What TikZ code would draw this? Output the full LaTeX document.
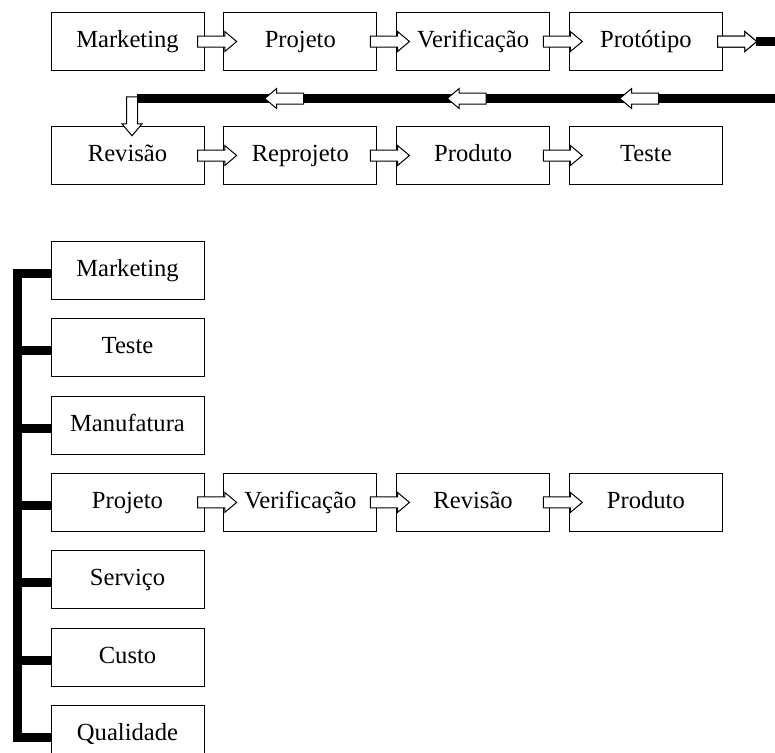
\documentclass[tikz,border=0pt]{standalone}
\usepackage{fontspec}
\setmainfont{Liberation Serif}
\usetikzlibrary{positioning,calc,shapes.arrows}

\begin{document}
\begin{tikzpicture}[x=0.5pt, y=-0.5pt,
    caixa/.style={draw, line width=0.5pt, minimum width=76.5pt, minimum height=29pt, inner sep=0pt, text height=8.6pt, text depth=2.6pt, font=\fontsize{12.3}{14}\selectfont},
    seta/.style={single arrow, draw, fill=white, line width=0.5pt, inner sep=2.5pt, minimum height=19.5pt, single arrow head extend=2.25pt, single arrow tip angle=80},
    barra/.style={line width=4.5pt, line join=miter}]
    \clip (0,0) rectangle (775,752);
    \useasboundingbox (0,0) rectangle (775,752);

    \node[caixa] (m1) at (127.5,41.5) {Marketing};
    \node[caixa, right=9.4pt of m1] (p1) {Projeto};
    \node[caixa, right=9.4pt of p1] (v1) {Verificação};
    \node[caixa, right=9.4pt of v1] (t1) {Protótipo};

    \node[caixa] (r2) at (127.5,155.5) {Revisão};
    \node[caixa, right=9.4pt of r2] (rp2) {Reprojeto};
    \node[caixa, right=9.4pt of rp2] (p2) {Produto};
    \node[caixa, right=9.4pt of p2] (t2) {Teste};

    \node[caixa] (c1) at (127.5,270.5) {Marketing};
    \node[caixa, below=9.15pt of c1] (c2) {Teste};
    \node[caixa, below=9.15pt of c2] (c3) {Manufatura};
    \node[caixa, below=9.15pt of c3] (c4) {Projeto};
    \node[caixa, below=9.15pt of c4] (c5) {Serviço};
    \node[caixa, below=9.15pt of c5] (c6) {Custo};
    \node[caixa, below=9.15pt of c6] (c7) {Qualidade};

    \node[caixa, right=9.4pt of c4] (v3) {Verificação};
    \node[caixa, right=9.4pt of v3] (r3) {Revisão};
    \node[caixa, right=9.4pt of r3] (p3) {Produto};

    \node[seta] (s4) at ($(t1.east)+(11,0)$) {};
    \coordinate (canto) at (137,98.5);
    \draw[barra] ([xshift=-0.5pt]s4.tip) -- (800,41.5) -- (800,98.5) -- (canto);

    \draw[barra] ([yshift=-1.5pt]c1.west) -- ++(-33.5,0) |- ([yshift=-1.5pt]c7.west);
    \foreach \i in {2,...,6}
        \draw[barra] ([yshift=-1.5pt]c\i.west) -- ++(-33.5,0);

    \node[seta] at ($(m1.east)!.5!(p1.west)$) {};
    \node[seta] at ($(p1.east)!.5!(v1.west)$) {};
    \node[seta] at ($(v1.east)!.5!(t1.west)$) {};
    \node[seta] at (s4) {};

    \node[seta, shape border rotate=180] at (642.5,98.5) {};
    \node[seta, shape border rotate=180] at (470,98.5) {};
    \node[seta, shape border rotate=180] at (287.5,98.5) {};
    \node[seta, shape border rotate=270] (d) at (132,113) {};

    \node[seta] at ($(r2.east)!.5!(rp2.west)$) {};
    \node[seta] at ($(rp2.east)!.5!(p2.west)$) {};
    \node[seta] at ($(p2.east)!.5!(t2.west)$) {};

    \node[seta] at ($(c4.east)!.5!(v3.west)$) {};
    \node[seta] at ($(v3.east)!.5!(r3.west)$) {};
    \node[seta] at ($(r3.east)!.5!(p3.west)$) {};
\end{tikzpicture}
\end{document}
